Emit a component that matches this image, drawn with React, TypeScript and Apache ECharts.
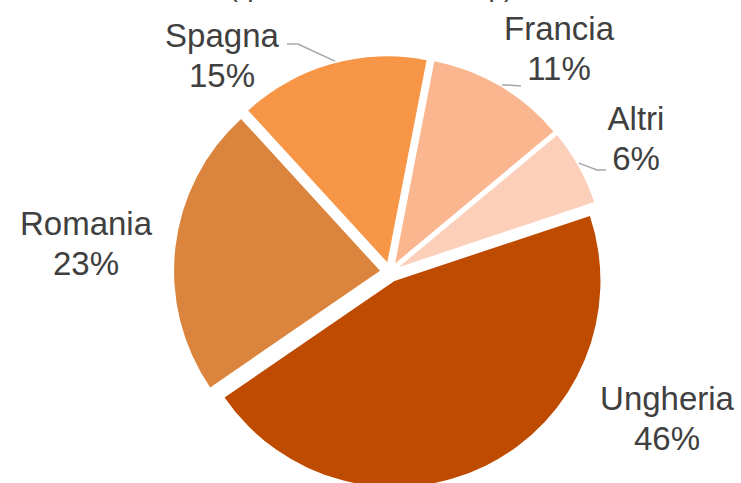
import React, { useEffect, useRef } from "react";
import * as echarts from "echarts";

const categories = ["Francia", "Altri", "Ungheria", "Romania", "Spagna"];
const values = [11, 6, 46, 23, 15];
const titleText = "(quota %, anno 2014p)";

const sliceColors = ["#FAB68E", "#FBCFBA", "#BE4B00", "#DB843D", "#F79646"];
const labelAnchors: [number, number][] = [
  [559, 48],
  [636, 138],
  [667, 418],
  [86, 243],
  [222, 55],
];
// leader lines: angle on the slice edge (deg from 12 o'clock), elbow and end offsets from the label anchor
const leaders: ({ angle: number; elbow: [number, number]; end: [number, number] } | null)[] = [
  { angle: 30.9, elbow: [-52, 37], end: [-38, 38] },
  { angle: 60.0, elbow: [-39, 32], end: [-30, 32] },
  null,
  null,
  { angle: 345.4, elbow: [76, -11], end: [65, -11] },
];

const CX = 390;
const CY = 272;
const R = 206;
const START_FROM_TOP = 11; // degrees, clockwise from 12 o'clock
const EXPLODE = 10;

export default function App() {
  const ref = useRef<HTMLDivElement>(null);
  useEffect(() => {
    if (!ref.current) return;
    const chart = echarts.init(ref.current, null, { renderer: "svg" });
    const total = values.reduce((a, b) => a + b, 0);
    let cum = 0;
    const series = categories.map((_, k) => {
      const mid = START_FROM_TOP + (360 * (cum + values[k] / 2)) / total;
      cum += values[k];
      const rad = (mid * Math.PI) / 180;
      const center = [CX + EXPLODE * Math.sin(rad), CY - EXPLODE * Math.cos(rad)];
      const ld = leaders[k];
      const anchor = labelAnchors[k];
      let linePts: number[][] | undefined;
      if (ld) {
        const a = (ld.angle * Math.PI) / 180;
        linePts = [
          [center[0] + (R + 2) * Math.sin(a), center[1] - (R + 2) * Math.cos(a)],
          [anchor[0] + ld.elbow[0], anchor[1] + ld.elbow[1]],
          [anchor[0] + ld.end[0], anchor[1] + ld.end[1]],
        ];
      }
      return {
        type: "pie",
        center,
        radius: R,
        startAngle: 90 - START_FROM_TOP,
        clockwise: true,
        avoidLabelOverlap: false,
        silent: true,
        emphasis: { disabled: true },
        label: {
          show: true,
          position: "outside",
          formatter: "{b}\n{c}%",
          fontSize: 33,
          lineHeight: 40,
          align: "center",
          color: "#404040",
          fontFamily: "Liberation Sans, Arial, sans-serif",
        },
        labelLine: {
          show: true,
          length: 8,
          length2: 10,
          lineStyle: { color: "#A6A6A6", width: 1.5 },
        },
        labelLayout: (params: any) => {
          const o: any = {
            x: anchor[0],
            y: anchor[1],
            align: "center",
            verticalAlign: "middle",
          };
          if (params.dataIndex === k && linePts) o.labelLinePoints = linePts;
          return o;
        },
        data: categories.map((name, i) => ({
          name,
          value: values[i],
          itemStyle: { color: i === k ? sliceColors[i] : "rgba(0,0,0,0)" },
          label: { show: i === k },
          labelLine: { show: i === k && !!leaders[i] },
        })),
      };
    });
    chart.setOption({
      animation: false,
      backgroundColor: "#ffffff",
      graphic: [
        {
          type: "text",
          x: 371,
          y: -14,
          style: {
            text: titleText,
            fontSize: 28,
            fontFamily: "Liberation Sans, Arial, sans-serif",
            fill: "#404040",
            align: "center",
            verticalAlign: "middle",
          },
        },
      ],
      series,
    });
    return () => chart.dispose();
  }, []);
  return (
    <div
      ref={ref}
      style={{ position: "fixed", left: 0, top: 0, width: 741, height: 483 }}
    />
  );
}
